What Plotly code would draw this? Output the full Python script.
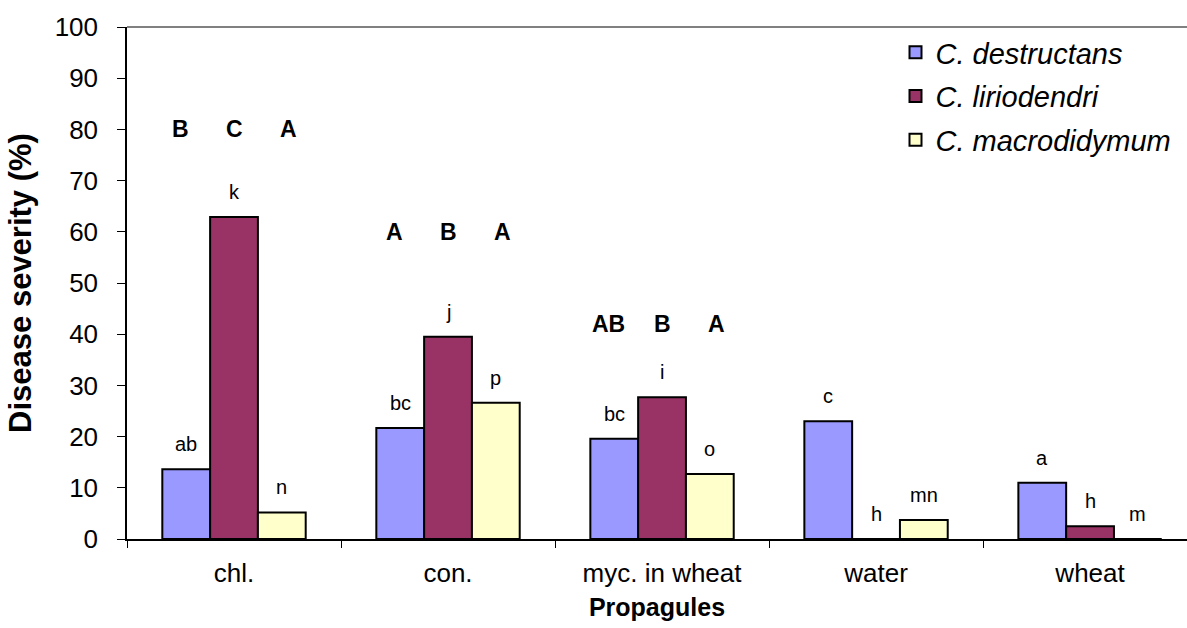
import plotly.graph_objects as go

# Disease severity (%) by propagule type for three Cylindrocarpon species
propagules = ["chl.", "con.", "myc. in wheat", "water", "wheat"]
species = ["C. destructans", "C. liriodendri", "C. macrodidymum"]
destructans = [13.6, 21.7, 19.6, 23.0, 11.0]
liriodendri = [62.9, 39.5, 27.7, 0.0, 2.5]
macrodidymum = [5.2, 26.6, 12.7, 3.7, 0.0]

# mean-separation letters above each bar
letters_destructans = ["ab", "bc", "bc", "c", "a"]
letters_liriodendri = ["k", "j", "i", "h", "h"]
letters_macrodidymum = ["n", "p", "o", "mn", "m"]

# species comparison letters within a propagule type
group_letters = [["B", "C", "A"], ["A", "B", "A"], ["AB", "B", "A"]]
group_letter_y = [80, 60, 42]

colors = ["#9999FF", "#993366", "#FFFFCC"]
FONT = "Liberation Sans, Arial, sans-serif"
BARGAP = 0.33
X_RANGE = [-0.5, 4.453]

series = [destructans, liriodendri, macrodidymum]
series_letters = [letters_destructans, letters_liriodendri, letters_macrodidymum]

fig = go.Figure()
for k, (name, vals, col) in enumerate(zip(species, series, colors)):
    fig.add_trace(go.Bar(
        x=propagules, y=vals, name=name, legendgroup="g%d" % k,
        marker=dict(color=col, line=dict(color="black", width=2)),
    ))

bar_w = (1 - BARGAP) / len(series)
annotations = []
for j, (vals, labs) in enumerate(zip(series, series_letters)):
    off = (j - 1) * bar_w
    for i, (v, lab) in enumerate(zip(vals, labs)):
        annotations.append(dict(
            x=i + off, y=v, text=lab, showarrow=False,
            xref="x", yref="y", yanchor="bottom", yshift=12,
            font=dict(family=FONT, size=20, color="black"),
        ))

# group letters sit slightly wider apart than the bars beneath them
spread = 1.13
for i, (labs, gy) in enumerate(zip(group_letters, group_letter_y)):
    for j, lab in enumerate(labs):
        annotations.append(dict(
            x=i + (j - 1) * bar_w * spread, y=gy, text="<b>%s</b>" % lab, showarrow=False,
            xref="x", yref="y", yanchor="middle",
            font=dict(family=FONT, size=23, color="black"),
        ))

fig.update_layout(
    width=1187, height=628,
    margin=dict(l=127, r=0, t=27, b=89),
    paper_bgcolor="white", plot_bgcolor="white",
    barmode="group", bargap=BARGAP, bargroupgap=0,
    font=dict(family=FONT, color="black"),
    annotations=annotations,
    legend=dict(
        x=0.725, y=1.0, xanchor="left", yanchor="top",
        font=dict(family=FONT, size=29, style="italic"),
        bgcolor="rgba(0,0,0,0)",
        traceorder="grouped", tracegroupgap=3,
    ),
    # gray plot-area border along the top edge
    shapes=[dict(type="line", xref="paper", yref="paper", x0=0, x1=1, y0=1, y1=1,
                 layer="above", line=dict(color="#808080", width=2))],
)

fig.update_xaxes(
    type="category", range=X_RANGE,
    showline=True, linecolor="black", linewidth=1.5,
    ticks="outside", tickson="boundaries", ticklen=7, tickcolor="black",
    tickfont=dict(family=FONT, size=26), ticklabelstandoff=10,
    showgrid=False,
    title=dict(text="<b>Propagules</b>", font=dict(family=FONT, size=25), standoff=12),
)
fig.update_yaxes(
    range=[0, 100], dtick=10,
    showline=True, linecolor="black", linewidth=1.5,
    ticks="outside", ticklen=8, tickcolor="black",
    tickfont=dict(family=FONT, size=26), ticklabelstandoff=14,
    showgrid=False, zeroline=False,
    title=dict(text="<b>Disease severity (%)</b>", font=dict(family=FONT, size=31), standoff=14),
)

fig.write_html("out.html")
